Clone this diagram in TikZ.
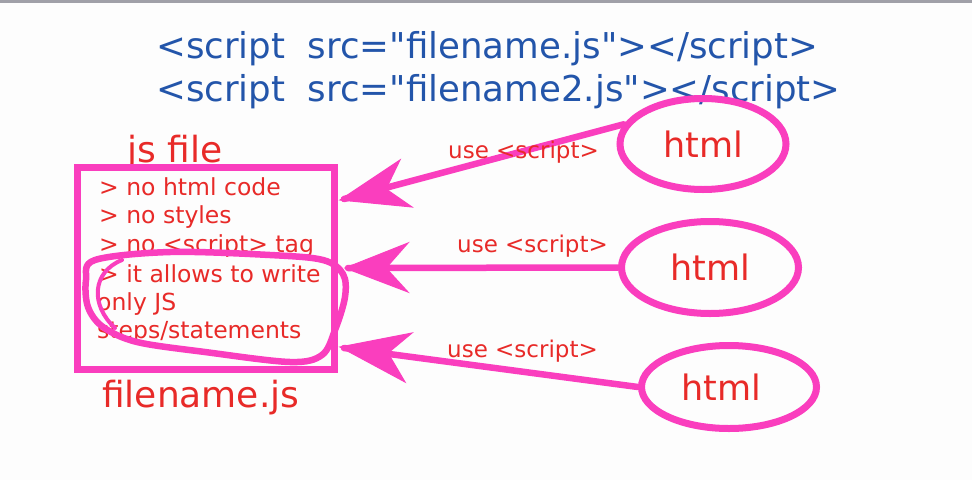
\documentclass[tikz,border=0pt]{standalone}
\usepackage{fontspec}
\newfontfamily\djv{DejaVu Sans}
\usetikzlibrary{shapes.geometric}
\definecolor{mag}{RGB}{250,62,190}
\definecolor{redtxt}{RGB}{232,42,40}
\definecolor{bluetxt}{RGB}{35,85,170}
\definecolor{bg}{RGB}{253,253,253}
\definecolor{topbar}{RGB}{160,160,168}
\tikzset{
  code/.style={anchor=base west, inner sep=0pt, text=bluetxt, font=\djv\fontsize{35.6}{40}\selectfont},
  big/.style={anchor=base west, inner sep=0pt, text=redtxt, font=\djv\fontsize{36}{40}\selectfont},
  item/.style={anchor=base west, inner sep=0pt, text=redtxt, font=\djv\fontsize{23.5}{26}\selectfont},
  lbl/.style={anchor=base west, inner sep=0pt, text=redtxt, font=\djv\fontsize{23}{26}\selectfont},
  htmlnode/.style={ellipse, draw=mag, line width=7pt, inner sep=0pt, text=redtxt, font=\djv\fontsize{35}{38}\selectfont},
  filebox/.style={draw=mag, line width=7pt, inner sep=0pt},
  conn/.style={draw=mag, line width=6.5pt, line cap=round},
  head/.style={fill=mag, draw=mag, line width=1pt, line join=miter},
  loopline/.style={draw=mag, line width=6.5pt, line cap=round, line join=round}
}
\begin{document}
\begin{tikzpicture}[x=1pt,y=-1pt]
\useasboundingbox (0,0) rectangle (972,480);
\fill[bg] (0,0) rectangle (972,480);
\fill[topbar] (0,0) rectangle (972,3);

\node[code] (c1) at (156,58) {<script\ \ src="filename.js"></script>};
\node[code] (c2) at (156,101) {<script\ \ src="filename2.js"></script>};

\node[big] (jsfile) at (127,162) {js file};
\node[filebox, minimum width=257pt, minimum height=202pt] (box) at (205.5,268) {};
\node[item] (i1) at (99,195) {> no html code};
\node[item] (i2) at (99,223) {> no styles};
\node[item] (i3) at (99,252) {> no <script> tag};
\node[item] (i4) at (99,282) {> it allows to write};
\node[item] (i5) at (97,310) {only JS};
\node[item] (i6) at (97,338) {steps/statements};
\node[big] (fname) at (102,407) {filename.js};

\draw[loopline] plot[smooth cycle, tension=0.55] coordinates {(95,260) (170,252) (270,255) (323,260) (343,274) (345,297) (335,330) (322,355) (290,362) (205,352) (137,342) (103,327) (88,307) (86,280)};
\draw[loopline, line width=4pt] (122,260) .. controls (92,272) and (90,305) .. (115,328);

\node[htmlnode, minimum width=166pt, minimum height=91pt] (h1) at (703,144) {html};
\node[htmlnode, minimum width=177pt, minimum height=92pt] (h2) at (710,267.5) {html};
\node[htmlnode, minimum width=175pt, minimum height=83pt] (h3) at (729,387) {\hspace*{-16pt}html};

\coordinate (t1) at (344,199);
\coordinate (t2) at (348,268);
\coordinate (t3) at (344,348);

\draw[conn] (h1.166) -- (t1);
\draw[conn] (h2.west) -- (t2);
\draw[conn] (h3.west) -- (t3);

\draw[head] (340,200) -- (400,160) -- (386,189) -- (412,207) -- cycle;
\draw[head] (345,268) -- (408,243) -- (386,268) -- (408,292) -- cycle;
\draw[head] (340,347) -- (412,333) -- (388,353) -- (405,382) -- cycle;

\node[lbl] (u1) at (448,158) {use <script>};
\node[lbl] (u2) at (457,252) {use <script>};
\node[lbl] (u3) at (447,357) {use <script>};
\end{tikzpicture}
\end{document}
